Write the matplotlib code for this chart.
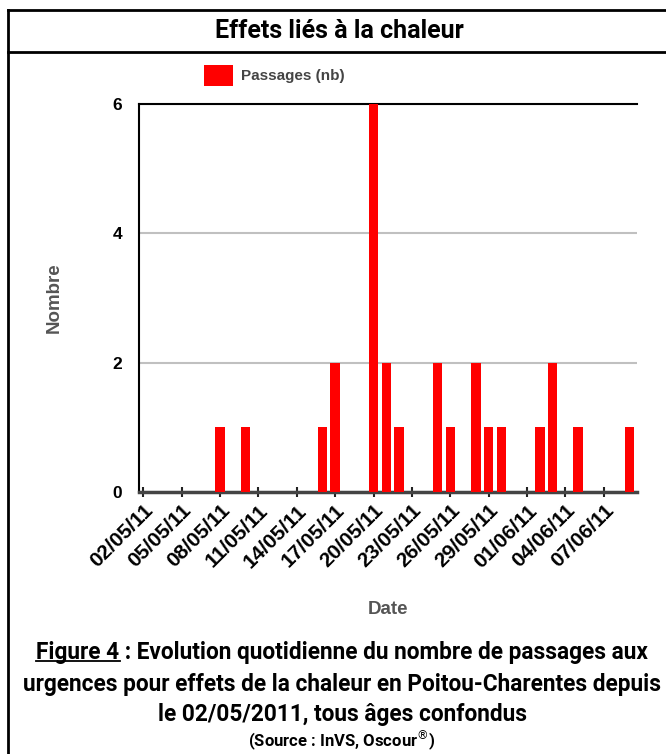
import matplotlib
matplotlib.use("Agg")
import matplotlib.pyplot as plt
from matplotlib.lines import Line2D
import pandas as pd

# daily counts of emergency visits for heat effects (only non-zero days)
dates = ["08/05/2011", "10/05/2011", "16/05/2011", "17/05/2011", "20/05/2011",
         "21/05/2011", "22/05/2011", "25/05/2011", "26/05/2011", "28/05/2011",
         "29/05/2011", "30/05/2011", "02/06/2011", "03/06/2011", "05/06/2011",
         "09/06/2011"]
passages = [1, 1, 1, 2, 6, 2, 1, 2, 1, 2, 1, 1, 1, 2, 1, 1]

start = pd.Timestamp("2011-05-02")
tick_dates = pd.date_range(start, "2011-06-07", freq="3D")
tick_labels = [d.strftime("%d/%m/%y") for d in tick_dates]

days = [(pd.to_datetime(d, dayfirst=True) - start).days for d in dates]
tick_pos = [(d - start).days for d in tick_dates]

plt.rcParams["font.family"] = ["Liberation Sans", "DejaVu Sans"]
narrow = ["Roboto", "DejaVu Sans"]

fig = plt.figure(figsize=(6.66, 7.54), dpi=100)
ax = fig.add_axes([0.2087, 0.3475, 0.7478, 0.5145])

ax.bar(days, passages, width=0.74, color="#ff0000", label="Passages (nb)", zorder=3)

ax.set_ylim(0, 6)
ax.set_xlim(-0.34, 38.6)
ax.set_yticks([0, 2, 4, 6])
ax.yaxis.grid(True, color="#c0c0c0", linewidth=1.5, zorder=0)
ax.tick_params(axis="y", length=0, labelsize=12.5, pad=12)
for lab in ax.get_yticklabels():
    lab.set_fontweight("bold")

ax.set_xticks(tick_pos)
ax.set_xticklabels(tick_labels, rotation=45, ha="right", rotation_mode="anchor",
                   fontsize=15, fontweight="bold")
ax.tick_params(axis="x", direction="inout", length=7, width=1.5, color="#222222", pad=3)

ax.spines["right"].set_visible(False)
ax.spines["top"].set_linewidth(1.5)
ax.spines["left"].set_linewidth(1.5)
ax.spines["bottom"].set_linewidth(2.5)
ax.spines["bottom"].set_color("#444444")

ax.set_ylabel("Nombre", fontsize=13.5, fontweight="bold", color="#555555", labelpad=36)
ax.set_xlabel("Date", fontsize=13.5, fontweight="bold", color="#555555", labelpad=21)

leg = ax.legend(loc="lower center", bbox_to_anchor=(0.272, 1.012), frameon=False,
                fontsize=11, handlelength=1.9, handleheight=1.7, handletextpad=0.5)
for t in leg.get_texts():
    t.set_fontweight("bold")
    t.set_color("#444444")

# frame around the figure
fig.add_artist(Line2D([8 / 666, 8 / 666], [0, 1 - 10 / 754], color="black", lw=2))
fig.add_artist(Line2D([8 / 666, 1], [1 - 10 / 754, 1 - 10 / 754], color="black", lw=2))
fig.add_artist(Line2D([8 / 666, 1], [1 - 52 / 754, 1 - 52 / 754], color="black", lw=2))

fig.text(0.51, 1 - 31 / 754, "Effets liés à la chaleur", ha="center", va="center",
         fontsize=18, fontweight="bold", family=narrow)

cap_size = 16.3
cap1 = fig.text(0.514, 1 - 652 / 754,
                "Figure 4 : Evolution quotidienne du nombre de passages aux",
                ha="center", va="center", fontsize=cap_size, fontweight="bold", family=narrow)
fig.text(0.514, 1 - 685 / 754, "urgences pour effets de la chaleur en Poitou-Charentes depuis",
         ha="center", va="center", fontsize=cap_size, fontweight="bold", family=narrow)
fig.text(0.514, 1 - 714 / 754, "le 02/05/2011, tous âges confondus",
         ha="center", va="center", fontsize=cap_size, fontweight="bold", family=narrow)
fig.text(0.514, 1 - 741 / 754, "(Source : InVS, Oscour$^{®}$)",
         ha="center", va="center", fontsize=12, fontweight="bold", family=narrow)

# underline "Figure 4"
renderer = fig.canvas.get_renderer()
full_bb = cap1.get_window_extent(renderer)
probe = fig.text(0, 0, "Figure 4", fontsize=cap_size, fontweight="bold", family=narrow)
w = probe.get_window_extent(renderer).width
probe.remove()
W, H = fig.bbox.width, fig.bbox.height
y_ul = (full_bb.y0 + 3) / H
fig.add_artist(Line2D([full_bb.x0 / W, (full_bb.x0 + w) / W], [y_ul, y_ul],
                      color="black", lw=1.3))

fig.savefig("out.png", dpi=100)
